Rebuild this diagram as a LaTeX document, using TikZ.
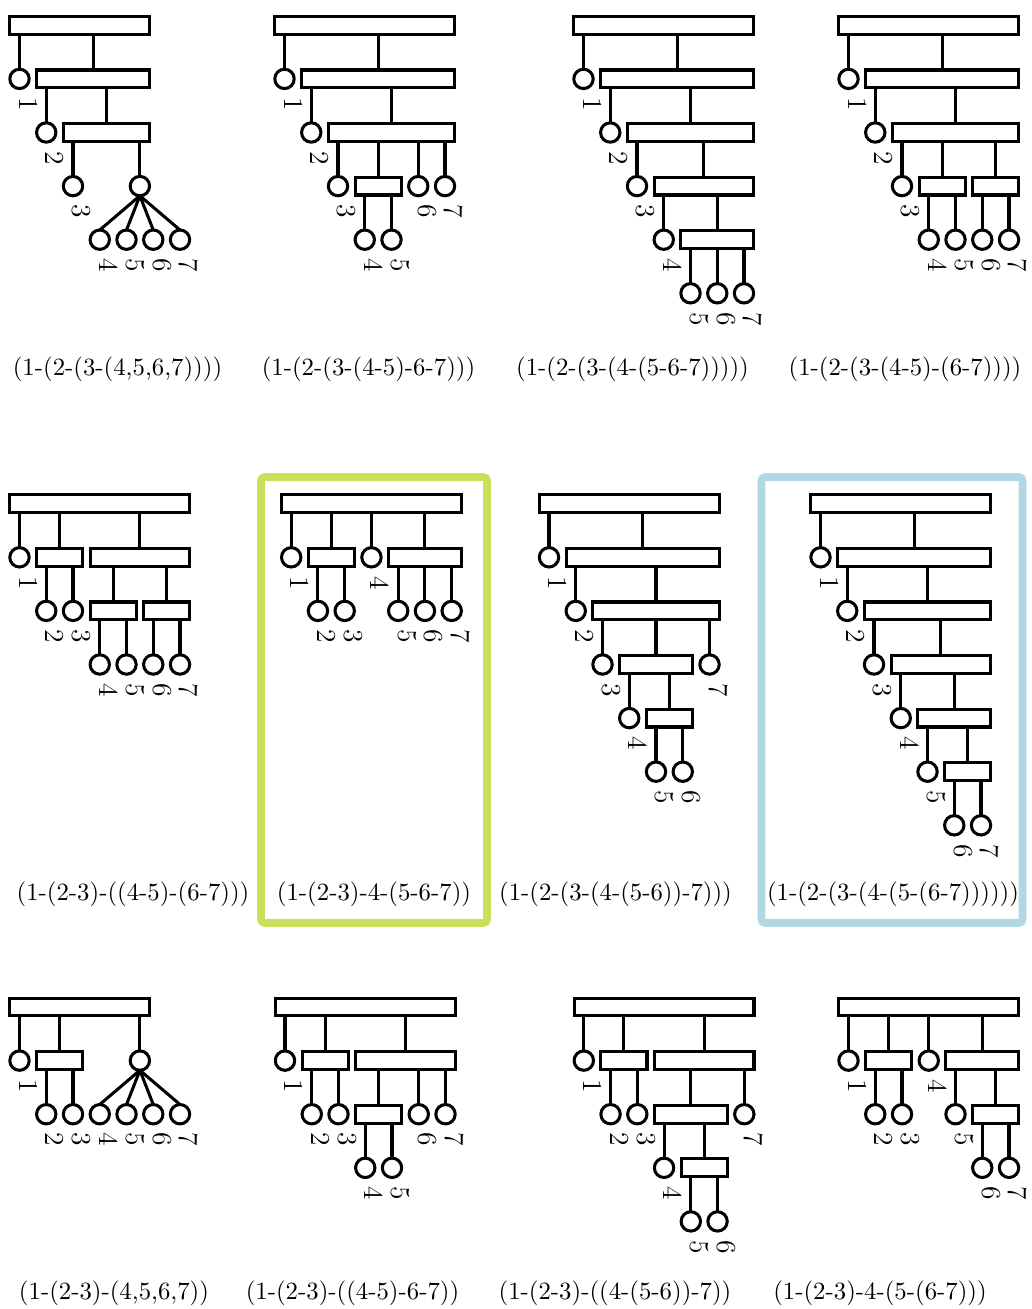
\documentclass[tikz,border=0pt]{standalone}
\usepackage{tikz}
\definecolor{frgreen}{RGB}{200,225,90}
\definecolor{frblue}{RGB}{176,216,226}
\tikzset{
  lf/.style={circle, draw, line width=1.25pt, minimum size=7.98pt, inner sep=0pt, outer sep=0pt},
  bx/.style={rectangle, draw, line width=1.25pt, minimum height=7.32pt, inner sep=0pt, outer sep=0pt},
  lab/.style={rotate=-90, inner sep=0pt, font=\fontsize{11.3}{13}\selectfont},
  cn/.style={line width=1.25pt},
  capt/.style={inner sep=0pt, font=\fontsize{10.2}{12}\selectfont},
  frm/.style={line width=3.1pt, rounded corners=1.5pt},
  gridu/.style={x=11.008pt, y=-22.056pt}
}
% box: name, left grid x, right grid x, depth
\newcommand\bxx[4]{\node[bx, minimum width={(#3-#2)*11.008pt+7.98pt}] (#1) at ({(#2+#3)/2},#4) {};}
% leaf: name, grid x, depth, label
\newcommand\lff[4]{\node[lf] (#1) at (#2,#3) {};
  \node[lab] (#1t) at ([xshift=3.62pt,yshift=-10.49pt]#1.center) {#4};}
% connector parent -> child
\newcommand\cc[2]{\draw[cn] (#1.south -| #2.north) -- (#2.north);}
\begin{document}
\begin{tikzpicture}[x=0.4115pt, y=-0.4115pt]
\useasboundingbox (0,0) rectangle (1032,1309);

% ---------- frames ----------
\draw[frm, frgreen] (261,477) rectangle (487,923);
\draw[frm, frblue] (761.5,477) rectangle (1022.5,923);

% ---------- D1 (1-(2-(3-(4,5,6,7)))) ----------
\begin{scope}[shift={(19.5,25.3)}, gridu]
\bxx{aR1}{0}{4.5}{0}
\lff{a1}{0}{1}{1}
\bxx{aR2}{1}{4.5}{1}
\lff{a2}{1}{2}{2}
\bxx{aR3}{2}{4.5}{2}
\lff{a3}{2}{3}{3}
\node[lf] (aC) at (4.5,3) {};
\lff{a4}{3}{4}{4}\lff{a5}{4}{4}{5}\lff{a6}{5}{4}{6}\lff{a7}{6}{4}{7}
\cc{aR1}{a1}\cc{aR1}{aR2}\cc{aR2}{a2}\cc{aR2}{aR3}\cc{aR3}{a3}\cc{aR3}{aC}
\foreach \k in {4,5,6,7} {\draw[cn] (aC.south) -- (a\k.north);}
\end{scope}

% ---------- D2 (1-(2-(3-(4-5)-6-7))) ----------
\begin{scope}[shift={(284.5,25.3)}, gridu]
\bxx{bR1}{0}{6}{0}
\lff{b1}{0}{1}{1}
\bxx{bR2}{1}{6}{1}
\lff{b2}{1}{2}{2}
\bxx{bR3}{2}{6}{2}
\lff{b3}{2}{3}{3}
\bxx{bR45}{3}{4}{3}
\lff{b6}{5}{3}{6}\lff{b7}{6}{3}{7}
\lff{b4}{3}{4}{4}\lff{b5}{4}{4}{5}
\cc{bR1}{b1}\cc{bR1}{bR2}\cc{bR2}{b2}\cc{bR2}{bR3}
\cc{bR3}{b3}\cc{bR3}{bR45}\cc{bR3}{b6}\cc{bR3}{b7}
\cc{bR45}{b4}\cc{bR45}{b5}
\end{scope}

% ---------- D3 (1-(2-(3-(4-(5-6-7))))) ----------
\begin{scope}[shift={(583.5,25.3)}, gridu]
\bxx{cR1}{0}{6}{0}
\lff{c1}{0}{1}{1}
\bxx{cR2}{1}{6}{1}
\lff{c2}{1}{2}{2}
\bxx{cR3}{2}{6}{2}
\lff{c3}{2}{3}{3}
\bxx{cR4}{3}{6}{3}
\lff{c4}{3}{4}{4}
\bxx{cR5}{4}{6}{4}
\lff{c5}{4}{5}{5}\lff{c6}{5}{5}{6}\lff{c7}{6}{5}{7}
\cc{cR1}{c1}\cc{cR1}{cR2}\cc{cR2}{c2}\cc{cR2}{cR3}\cc{cR3}{c3}\cc{cR3}{cR4}
\cc{cR4}{c4}\cc{cR4}{cR5}\cc{cR5}{c5}\cc{cR5}{c6}\cc{cR5}{c7}
\end{scope}

% ---------- D4 (1-(2-(3-(4-5)-(6-7)))) ----------
\begin{scope}[shift={(848.5,25.3)}, gridu]
\bxx{dR1}{0}{6}{0}
\lff{d1}{0}{1}{1}
\bxx{dR2}{1}{6}{1}
\lff{d2}{1}{2}{2}
\bxx{dR3}{2}{6}{2}
\lff{d3}{2}{3}{3}
\bxx{dR45}{3}{4}{3}
\bxx{dR67}{5}{6}{3}
\lff{d4}{3}{4}{4}\lff{d5}{4}{4}{5}\lff{d6}{5}{4}{6}\lff{d7}{6}{4}{7}
\cc{dR1}{d1}\cc{dR1}{dR2}\cc{dR2}{d2}\cc{dR2}{dR3}
\cc{dR3}{d3}\cc{dR3}{dR45}\cc{dR3}{dR67}
\cc{dR45}{d4}\cc{dR45}{d5}\cc{dR67}{d6}\cc{dR67}{d7}
\end{scope}

% ---------- D5 (1-(2-3)-((4-5)-(6-7))) ----------
\begin{scope}[shift={(19.5,503.7)}, gridu]
\bxx{eR1}{0}{6}{0}
\lff{e1}{0}{1}{1}
\bxx{eR23}{1}{2}{1}
\bxx{eR47}{3}{6}{1}
\lff{e2}{1}{2}{2}\lff{e3}{2}{2}{3}
\bxx{eR45}{3}{4}{2}
\bxx{eR67}{5}{6}{2}
\lff{e4}{3}{3}{4}\lff{e5}{4}{3}{5}\lff{e6}{5}{3}{6}\lff{e7}{6}{3}{7}
\cc{eR1}{e1}\cc{eR1}{eR23}\cc{eR1}{eR47}
\cc{eR23}{e2}\cc{eR23}{e3}\cc{eR47}{eR45}\cc{eR47}{eR67}
\cc{eR45}{e4}\cc{eR45}{e5}\cc{eR67}{e6}\cc{eR67}{e7}
\end{scope}

% ---------- D6 (1-(2-3)-4-(5-6-7)) ----------
\begin{scope}[shift={(291.2,503.7)}, gridu]
\bxx{fR1}{0}{6}{0}
\lff{f1}{0}{1}{1}
\bxx{fR23}{1}{2}{1}
\lff{f4}{3}{1}{4}
\bxx{fR57}{4}{6}{1}
\lff{f2}{1}{2}{2}\lff{f3}{2}{2}{3}
\lff{f5}{4}{2}{5}\lff{f6}{5}{2}{6}\lff{f7}{6}{2}{7}
\cc{fR1}{f1}\cc{fR1}{fR23}\cc{fR1}{f4}\cc{fR1}{fR57}
\cc{fR23}{f2}\cc{fR23}{f3}\cc{fR57}{f5}\cc{fR57}{f6}\cc{fR57}{f7}
\end{scope}

% ---------- D7 (1-(2-(3-(4-(5-6))-7))) ----------
\begin{scope}[shift={(549,503.7)}, gridu]
\bxx{gR1}{0}{6}{0}
\lff{g1}{0}{1}{1}
\bxx{gR2}{1}{6}{1}
\lff{g2}{1}{2}{2}
\bxx{gR3}{2}{6}{2}
\lff{g3}{2}{3}{3}
\bxx{gR4}{3}{5}{3}
\lff{g7}{6}{3}{7}
\lff{g4}{3}{4}{4}
\bxx{gR56}{4}{5}{4}
\lff{g5}{4}{5}{5}\lff{g6}{5}{5}{6}
\cc{gR1}{g1}\cc{gR1}{gR2}\cc{gR2}{g2}\cc{gR2}{gR3}
\cc{gR3}{g3}\cc{gR3}{gR4}\cc{gR3}{g7}
\cc{gR4}{g4}\cc{gR4}{gR56}\cc{gR56}{g5}\cc{gR56}{g6}
\end{scope}

% ---------- D8 (1-(2-(3-(4-(5-(6-7)))))) ----------
\begin{scope}[shift={(820.5,503.7)}, gridu]
\bxx{hR1}{0}{6}{0}
\lff{h1}{0}{1}{1}
\bxx{hR2}{1}{6}{1}
\lff{h2}{1}{2}{2}
\bxx{hR3}{2}{6}{2}
\lff{h3}{2}{3}{3}
\bxx{hR4}{3}{6}{3}
\lff{h4}{3}{4}{4}
\bxx{hR5}{4}{6}{4}
\lff{h5}{4}{5}{5}
\bxx{hR67}{5}{6}{5}
\lff{h6}{5}{6}{6}\lff{h7}{6}{6}{7}
\cc{hR1}{h1}\cc{hR1}{hR2}\cc{hR2}{h2}\cc{hR2}{hR3}\cc{hR3}{h3}\cc{hR3}{hR4}
\cc{hR4}{h4}\cc{hR4}{hR5}\cc{hR5}{h5}\cc{hR5}{hR67}\cc{hR67}{h6}\cc{hR67}{h7}
\end{scope}

% ---------- D9 (1-(2-3)-(4,5,6,7)) ----------
\begin{scope}[shift={(19.5,1007)}, gridu]
\bxx{iR1}{0}{4.5}{0}
\lff{i1}{0}{1}{1}
\bxx{iR23}{1}{2}{1}
\node[lf] (iC) at (4.5,1) {};
\lff{i2}{1}{2}{2}\lff{i3}{2}{2}{3}
\lff{i4}{3}{2}{4}\lff{i5}{4}{2}{5}\lff{i6}{5}{2}{6}\lff{i7}{6}{2}{7}
\cc{iR1}{i1}\cc{iR1}{iR23}\cc{iR1}{iC}
\cc{iR23}{i2}\cc{iR23}{i3}
\foreach \k in {4,5,6,7} {\draw[cn] (iC.south) -- (i\k.north);}
\end{scope}

% ---------- D10 (1-(2-3)-((4-5)-6-7)) ----------
\begin{scope}[shift={(285,1007)}, gridu]
\bxx{jR1}{0}{6}{0}
\lff{j1}{0}{1}{1}
\bxx{jR23}{1}{2}{1}
\bxx{jR47}{3}{6}{1}
\lff{j2}{1}{2}{2}\lff{j3}{2}{2}{3}
\bxx{jR45}{3}{4}{2}
\lff{j6}{5}{2}{6}\lff{j7}{6}{2}{7}
\lff{j4}{3}{3}{4}\lff{j5}{4}{3}{5}
\cc{jR1}{j1}\cc{jR1}{jR23}\cc{jR1}{jR47}
\cc{jR23}{j2}\cc{jR23}{j3}
\cc{jR47}{jR45}\cc{jR47}{j6}\cc{jR47}{j7}
\cc{jR45}{j4}\cc{jR45}{j5}
\end{scope}

% ---------- D11 (1-(2-3)-((4-(5-6))-7)) ----------
\begin{scope}[shift={(583.8,1007)}, gridu]
\bxx{kR1}{0}{6}{0}
\lff{k1}{0}{1}{1}
\bxx{kR23}{1}{2}{1}
\bxx{kR47}{3}{6}{1}
\lff{k2}{1}{2}{2}\lff{k3}{2}{2}{3}
\bxx{kR46}{3}{5}{2}
\lff{k7}{6}{2}{7}
\lff{k4}{3}{3}{4}
\bxx{kR56}{4}{5}{3}
\lff{k5}{4}{4}{5}\lff{k6}{5}{4}{6}
\cc{kR1}{k1}\cc{kR1}{kR23}\cc{kR1}{kR47}
\cc{kR23}{k2}\cc{kR23}{k3}
\cc{kR47}{kR46}\cc{kR47}{k7}
\cc{kR46}{k4}\cc{kR46}{kR56}
\cc{kR56}{k5}\cc{kR56}{k6}
\end{scope}

% ---------- D12 (1-(2-3)-4-(5-(6-7))) ----------
\begin{scope}[shift={(848.5,1007)}, gridu]
\bxx{lR1}{0}{6}{0}
\lff{l1}{0}{1}{1}
\bxx{lR23}{1}{2}{1}
\lff{l4}{3}{1}{4}
\bxx{lR57}{4}{6}{1}
\lff{l2}{1}{2}{2}\lff{l3}{2}{2}{3}
\lff{l5}{4}{2}{5}
\bxx{lR67}{5}{6}{2}
\lff{l6}{5}{3}{6}\lff{l7}{6}{3}{7}
\cc{lR1}{l1}\cc{lR1}{lR23}\cc{lR1}{l4}\cc{lR1}{lR57}
\cc{lR23}{l2}\cc{lR23}{l3}
\cc{lR57}{l5}\cc{lR57}{lR67}
\cc{lR67}{l6}\cc{lR67}{l7}
\end{scope}

% ---------- captions ----------
\node[capt] (capa) at (117.5,369) {(1-(2-(3-(4,5,6,7))))};
\node[capt] (capb) at (368.5,369) {(1-(2-(3-(4-5)-6-7)))};
\node[capt] (capc) at (632.5,369) {(1-(2-(3-(4-(5-6-7)))))};
\node[capt] (capd) at (905,369) {(1-(2-(3-(4-5)-(6-7))))};
\node[capt] (cape) at (133,894) {(1-(2-3)-((4-5)-(6-7)))};
\node[capt] (capf) at (374,894) {(1-(2-3)-4-(5-6-7))};
\node[capt] (capg) at (615.5,894) {(1-(2-(3-(4-(5-6))-7)))};
\node[capt] (caph) at (893,894) {(1-(2-(3-(4-(5-(6-7))))))};
\node[capt] (capi) at (114,1293) {(1-(2-3)-(4,5,6,7))};
\node[capt] (capj) at (352.5,1293) {(1-(2-3)-((4-5)-6-7))};
\node[capt] (capk) at (615,1293) {(1-(2-3)-((4-(5-6))-7))};
\node[capt] (capl) at (880,1293) {(1-(2-3)-4-(5-(6-7)))};
\end{tikzpicture}
\end{document}
